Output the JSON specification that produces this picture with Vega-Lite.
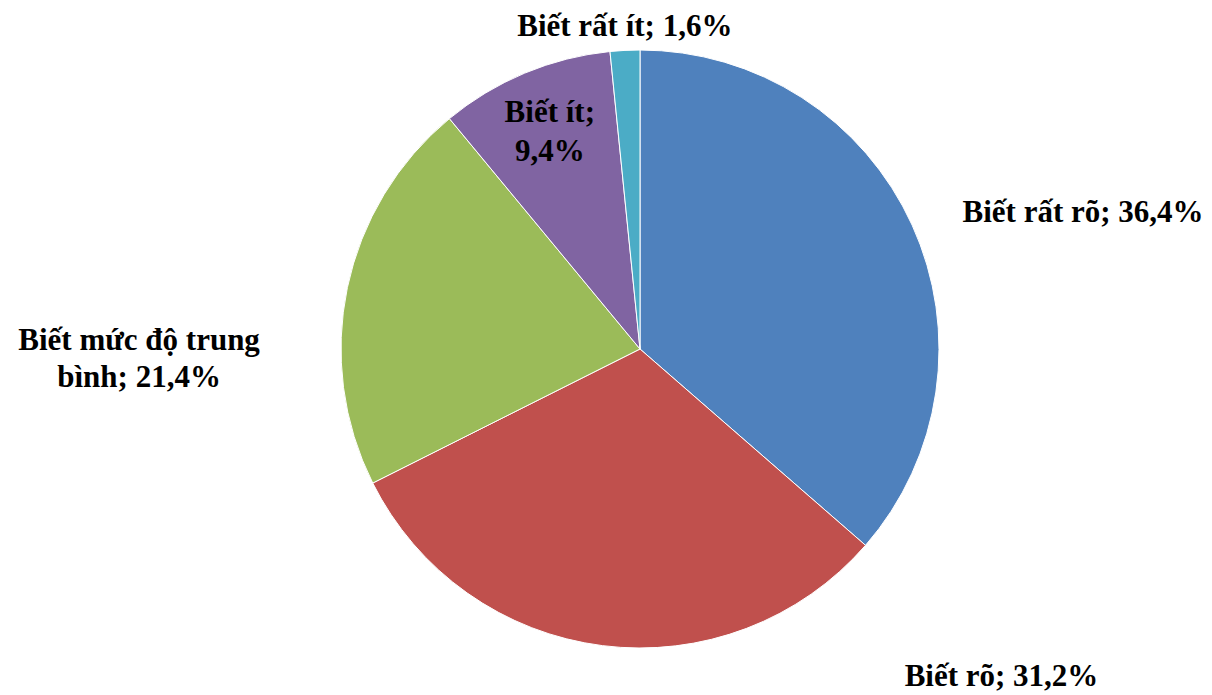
{
  "$schema": "https://vega.github.io/schema/vega-lite/v6.json",
  "width": 1144,
  "height": 692,
  "autosize": {"type": "none"},
  "padding": {"left": 68, "top": 3, "right": 0, "bottom": 0},
  "background": "white",
  "config": {"view": {"stroke": null}},
  "data": {
    "values": [
      {"cat": "Biết rất rõ", "value": 36.4, "rank": 1, "label": "Biết rất rõ; 36,4%"},
      {"cat": "Biết rõ", "value": 31.2, "rank": 2, "label": "Biết rõ; 31,2%"},
      {"cat": "Biết mức độ trung bình", "value": 21.4, "rank": 3, "label": "Biết mức độ trung\nbình; 21,4%"},
      {"cat": "Biết ít", "value": 9.4, "rank": 4, "label": "Biết ít;\n9,4%"},
      {"cat": "Biết rất ít", "value": 1.6, "rank": 5, "label": "Biết rất ít; 1,6%"}
    ]
  },
  "encoding": {
    "theta": {"field": "value", "type": "quantitative", "stack": true},
    "order": {"field": "rank", "type": "quantitative", "sort": "ascending"}
  },
  "layer": [
    {
      "mark": {"type": "arc", "outerRadius": 299, "stroke": "white", "strokeWidth": 1},
      "encoding": {
        "color": {
          "field": "cat",
          "type": "nominal",
          "legend": null,
          "scale": {
            "domain": ["Biết rất rõ", "Biết rõ", "Biết mức độ trung bình", "Biết ít", "Biết rất ít"],
            "range": ["#4F81BD", "#C0504D", "#9BBB59", "#8064A2", "#4BACC6"]
          }
        }
      }
    },
    {
      "mark": {"type": "text", "radius": 328, "dx": 24, "dy": 0, "align": "left", "baseline": "middle", "font": "Liberation Serif", "fontWeight": "bold", "fontSize": 31, "color": "black"},
      "encoding": {"text": {"condition": {"test": "datum.rank == 1", "field": "label"}, "value": ""}}
    },
    {
      "mark": {"type": "text", "radius": 330, "dx": 306, "dy": 1, "align": "left", "baseline": "middle", "font": "Liberation Serif", "fontWeight": "bold", "fontSize": 31, "color": "black"},
      "encoding": {"text": {"condition": {"test": "datum.rank == 2", "field": "label"}, "value": ""}}
    },
    {
      "mark": {"type": "text", "radius": 330, "dx": -178, "dy": 60, "align": "center", "baseline": "middle", "lineBreak": "\n", "lineHeight": 37, "font": "Liberation Serif", "fontWeight": "bold", "fontSize": 31, "color": "black"},
      "encoding": {"text": {"condition": {"test": "datum.rank == 3", "field": "label"}, "value": ""}}
    },
    {
      "mark": {"type": "text", "radius": 234, "dx": 0, "dy": -20, "align": "center", "baseline": "middle", "lineBreak": "\n", "lineHeight": 39, "font": "Liberation Serif", "fontWeight": "bold", "fontSize": 31, "color": "black"},
      "encoding": {"text": {"condition": {"test": "datum.rank == 4", "field": "label"}, "value": ""}}
    },
    {
      "mark": {"type": "text", "radius": 322, "dx": 1, "dy": 0, "align": "center", "baseline": "middle", "font": "Liberation Serif", "fontWeight": "bold", "fontSize": 31, "color": "black"},
      "encoding": {"text": {"condition": {"test": "datum.rank == 5", "field": "label"}, "value": ""}}
    }
  ]
}
